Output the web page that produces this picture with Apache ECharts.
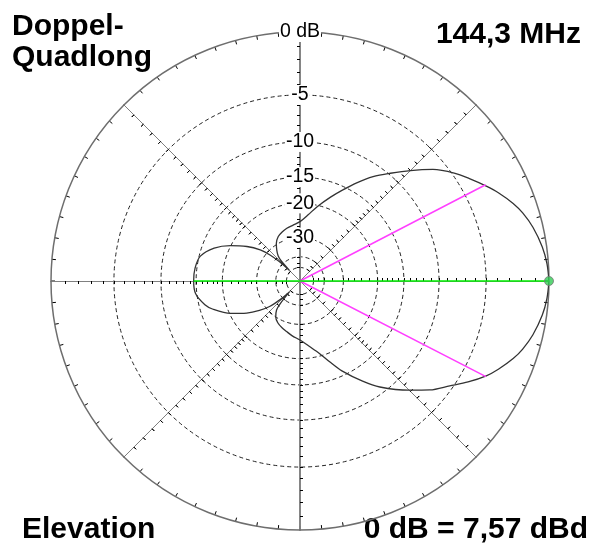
<!DOCTYPE html>
<html>
<head>
<meta charset="utf-8">
<script src="https://cdn.jsdelivr.net/npm/echarts@6/dist/echarts.min.js"></script>
<style>
html, body { margin: 0; padding: 0; background: #fff; }
#chart { width: 596px; height: 549px; }
</style>
</head>
<body>
<div id="chart"></div>
<script>
// Elevationsdiagramm, ARRL-Skala (Faktor 0.89 je 2 dB)
var patternAngles = [0, 4, 8, 13, 17, 20, 24, 27, 31, 35, 40, 45, 50, 55, 60, 65, 70, 77, 83, 90,
    97, 104, 110, 116, 122, 127, 131, 133, 135, 137, 139, 142, 147, 153, 159, 166, 173, 180,
    187, 194, 198, 205, 211, 216, 220, 223, 226, 229, 231, 236, 242, 249, 255, 262, 270,
    278, 285, 290, 295, 302, 307, 315, 320, 325, 329, 333, 336, 340, 343, 347, 352, 356, 360];
var patternDb = [0, -0.1, -0.3, -0.7, -1.15, -1.6, -2.35, -3.0, -3.9, -4.8, -6.2, -8.0, -9.8, -11.5, -13.5, -15.6, -17.6, -20.3, -22.6, -24.6,
    -25.5, -26.1, -26.8, -27.7, -29.5, -32, -34.5, -37.5, -48, -37, -31.5, -27.4, -23.5, -19.9, -17.1, -15.2, -14.7, -14.6,
    -14.8, -16.0, -17.2, -20.2, -23.8, -27.5, -31.5, -37.7, -48, -36, -32.6, -30, -28.5, -27.5, -26.8, -25.8, -24.7,
    -22.8, -20.6, -18.3, -15.8, -12.8, -10.8, -8.2, -6.6, -5.3, -4.1, -3.0, -2.35, -1.6, -1.15, -0.7, -0.3, -0.1, 0];

var ringDb = [-5, -10, -15, -20, -30, -40, -50];
var labelDb = [0, -5, -10, -15, -20, -30];
var labelText = ['0 dB', '-5', '-10', '-15', '-20', '-30'];
var spokeTickDb = [-1, -2, -3, -4, -5, -6, -7, -8, -9, -10, -11, -12, -13, -14, -15, -16, -17, -18, -19, -20,
    -22, -24, -26, -28, -30, -35, -40, -45, -50];
var spokeAngles = [0, 45, 90, 135, 180, 225, 270, 315];

var beamAngles = [27.4, 332.8];
var beamDb = -3;
var frontBackAngles = [180, 0];
var frontBackDb = [-14.6, 0];

function toR(db) {
    return Math.pow(0.89, -db / 2);
}

var CENTER = [300, 281];
var RADIUS = 249;

var polar = [], angleAxis = [], radiusAxis = [];

// 0: Hauptdiagramm mit Ringen und Gradskala
polar.push({ center: CENTER, radius: RADIUS });
angleAxis.push({
    polarIndex: 0, type: 'value', startAngle: 0, clockwise: false, min: 0, max: 360, interval: 5,
    axisLine: { lineStyle: { color: '#6e6e6e', width: 1.5 } },
    axisTick: { inside: true, length: 4, lineStyle: { color: '#000', width: 1 } },
    axisLabel: { show: false },
    splitLine: { show: false }
});
radiusAxis.push({
    polarIndex: 0, type: 'value', min: 0, max: 1,
    axisLine: { show: false },
    axisTick: { show: false, customValues: ringDb.map(toR) },
    axisLabel: { show: false },
    splitLine: { show: true, lineStyle: { color: '#222', width: 1, type: [4, 3] } }
});

// Speichen mit dB-Strichen (beide Seiten)
spokeAngles.forEach(function (a) {
    [false, true].forEach(function (inside) {
        var idx = polar.length;
        polar.push({ center: CENTER, radius: RADIUS });
        angleAxis.push({ polarIndex: idx, type: 'value', startAngle: a, min: 0, max: 360, show: false });
        radiusAxis.push({
            polarIndex: idx, type: 'value', min: 0, max: 1,
            axisLine: { show: true, lineStyle: { color: '#808080', width: (a % 180 == 90) ? 1.6 : 1 } },
            axisTick: { show: true, inside: inside, length: 3, customValues: spokeTickDb.map(toR), lineStyle: { color: '#000', width: 1 } },
            axisLabel: { show: false },
            splitLine: { show: false }
        });
    });
});

// Beschriftung nach oben
var lblIdx = polar.length;
polar.push({ center: CENTER, radius: RADIUS });
angleAxis.push({ polarIndex: lblIdx, type: 'value', startAngle: 90, min: 0, max: 360, show: false });
radiusAxis.push({
    polarIndex: lblIdx, type: 'value', min: 0, max: 1, z: 1,
    axisLine: { show: false },
    axisTick: { show: false },
    splitLine: { show: false },
    axisLabel: {
        show: true, margin: 0, align: 'center', verticalAlign: 'middle',
        customValues: labelDb.map(toR),
        color: '#000', fontSize: 19.5, fontFamily: 'Liberation Sans',
        backgroundColor: '#fff', padding: [0, 1],
        formatter: function (v) {
            var best = 0;
            for (var i = 0; i < labelDb.length; i++) {
                if (Math.abs(toR(labelDb[i]) - v) < Math.abs(toR(labelDb[best]) - v)) best = i;
            }
            return labelText[best];
        }
    }
});

var patternData = patternAngles.map(function (a, i) { return [toR(patternDb[i]), a]; });
var beamData = [[toR(beamDb), beamAngles[0]], [0, 0], [toR(beamDb), beamAngles[1]]];
var fbData = [[toR(frontBackDb[0]), frontBackAngles[0]], [0, 0], [toR(frontBackDb[1]), frontBackAngles[1]]];

var textFont = 'bold 30px "Liberation Sans", Arial, sans-serif';

var option = {
    animation: false,
    backgroundColor: '#fff',
    polar: polar,
    angleAxis: angleAxis,
    radiusAxis: radiusAxis,
    series: [
        {
            type: 'line', coordinateSystem: 'polar', polarIndex: 0, data: patternData,
            symbol: 'none', smooth: 0.3, z: 3,
            lineStyle: { color: '#333', width: 1.3 }
        },
        {
            type: 'line', coordinateSystem: 'polar', polarIndex: 0, data: beamData,
            symbol: 'none', z: 4,
            lineStyle: { color: '#ff40ff', width: 1.5 }
        },
        {
            type: 'line', coordinateSystem: 'polar', polarIndex: 0, data: fbData,
            symbol: 'none', z: 4,
            lineStyle: { color: '#00ee00', width: 1.5 }
        },
        {
            type: 'scatter', coordinateSystem: 'polar', polarIndex: 0, data: [[toR(frontBackDb[1]), frontBackAngles[1]]],
            symbolSize: 9, z: 5,
            itemStyle: { color: '#33cc55', borderColor: '#777', borderWidth: 1 }
        }
    ],
    graphic: [
        { type: 'text', x: 12, y: 27, style: { text: 'Doppel-', font: textFont, fill: '#000', verticalAlign: 'middle' } },
        { type: 'text', x: 12, y: 58, style: { text: 'Quadlong', font: textFont, fill: '#000', verticalAlign: 'middle' } },
        { type: 'text', x: 581, y: 35, style: { text: '144,3 MHz', font: textFont, fill: '#000', align: 'right', verticalAlign: 'middle' } },
        { type: 'text', x: 22, y: 530, style: { text: 'Elevation', font: textFont, fill: '#000', verticalAlign: 'middle' } },
        { type: 'text', x: 588, y: 530, style: { text: '0 dB = 7,57 dBd', font: textFont, fill: '#000', align: 'right', verticalAlign: 'middle' } }
    ]
};

var myChart = echarts.init(document.getElementById('chart'));
myChart.setOption(option);
</script>
</body>
</html>
